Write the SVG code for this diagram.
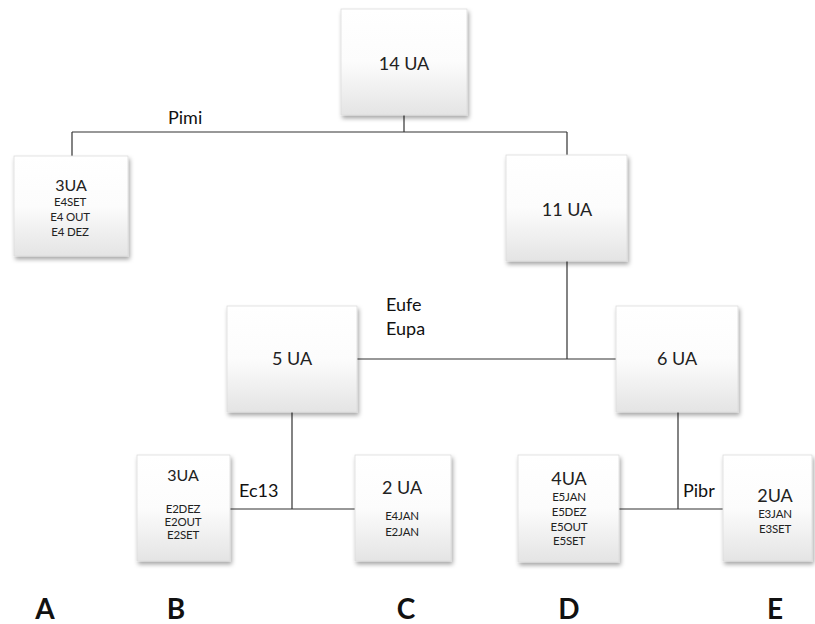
<svg xmlns="http://www.w3.org/2000/svg" width="815" height="624" viewBox="0 0 815 624">
<defs>
<linearGradient id="boxg" x1="0" y1="0" x2="0" y2="1">
<stop offset="0" stop-color="#ffffff"/>
<stop offset="0.5" stop-color="#fcfcfc"/>
<stop offset="1" stop-color="#e4e4e4"/>
</linearGradient>
<filter id="sh" x="-10%" y="-10%" width="125%" height="130%">
<feDropShadow dx="1.5" dy="3" stdDeviation="2" flood-color="#000" flood-opacity="0.35"/>
</filter>
</defs>
<style>
.box{fill:url(#boxg);stroke:#dcdcdc;stroke-width:0.8;filter:url(#sh)}
.t{font-family:Lato,"Open Sans","Liberation Sans",sans-serif;fill:#222;text-anchor:middle}
.big{font-size:18px}
.mid{font-size:16px}
.sm{font-size:11.5px;letter-spacing:-0.2px}
.lbl{font-family:Lato,"Open Sans","Liberation Sans",sans-serif;font-size:18px;fill:#111}
.let{font-family:Lato,"Open Sans","Liberation Sans",sans-serif;font-size:28px;font-weight:bold;fill:#111;text-anchor:middle}
.c{stroke:#333;stroke-width:1.2;fill:none}
</style>
<rect width="815" height="624" fill="#ffffff"/>
<g id="connectors">
<path class="c" d="M404 115 V132 M72 132 H567 M72 132 V156 M567 132 V155"/>
<path class="c" d="M567 261 V359 M357 359 H616"/>
<path class="c" d="M292 412 V509 M230 509 H355"/>
<path class="c" d="M678 412 V509 M619 509 H723"/>
<text class="lbl" x="168" y="124">Pimi</text>
<text class="lbl" x="386" y="311">Eufe</text>
<text class="lbl" x="386" y="335">Eupa</text>
<text class="lbl" x="239" y="497">Ec13</text>
<text class="lbl" x="683" y="497">Pibr</text>
</g>
<g id="n14">
<rect class="box" x="341" y="9" width="126" height="106"/>
<text class="t big" x="404" y="69.5">14 UA</text>
</g>
<g id="n3a">
<rect class="box" x="14" y="156" width="114" height="100"/>
<text class="t mid" x="71" y="190.5">3UA</text>
<text class="t sm" x="70" y="206">E4SET</text>
<text class="t sm" x="70" y="221">E4 OUT</text>
<text class="t sm" x="70" y="236">E4 DEZ</text>
</g>
<g id="n11">
<rect class="box" x="506" y="155" width="121" height="106"/>
<text class="t big" x="567" y="216">11 UA</text>
</g>
<g id="n5">
<rect class="box" x="227" y="306" width="130" height="106"/>
<text class="t big" x="292" y="365">5 UA</text>
</g>
<g id="n6">
<rect class="box" x="616" y="306" width="122" height="106"/>
<text class="t big" x="677" y="365">6 UA</text>
</g>
<g id="nB">
<rect class="box" x="137" y="455" width="93" height="106"/>
<text class="t mid" x="183" y="480.5">3UA</text>
<text class="t sm" x="183" y="513">E2DEZ</text>
<text class="t sm" x="183" y="526">E2OUT</text>
<text class="t sm" x="183" y="539">E2SET</text>
</g>
<g id="nC">
<rect class="box" x="355" y="455" width="96" height="106"/>
<text class="t big" x="402" y="494">2 UA</text>
<text class="t sm" x="402" y="520">E4JAN</text>
<text class="t sm" x="402" y="536">E2JAN</text>
</g>
<g id="nD">
<rect class="box" x="518" y="455" width="101" height="107"/>
<text class="t big" x="569" y="485">4UA</text>
<text class="t sm" x="569" y="501">E5JAN</text>
<text class="t sm" x="569" y="515.5">E5DEZ</text>
<text class="t sm" x="569" y="530.5">E5OUT</text>
<text class="t sm" x="569" y="545">E5SET</text>
</g>
<g id="nE">
<rect class="box" x="723" y="455" width="89" height="106"/>
<text class="t big" x="775" y="502">2UA</text>
<text class="t sm" x="775" y="518">E3JAN</text>
<text class="t sm" x="775" y="532.5">E3SET</text>
</g>
<g id="letters">
<text class="let" x="45" y="619">A</text>
<text class="let" x="176" y="619">B</text>
<text class="let" x="406" y="619">C</text>
<text class="let" x="569" y="619">D</text>
<text class="let" x="775" y="619">E</text>
</g>
</svg>
